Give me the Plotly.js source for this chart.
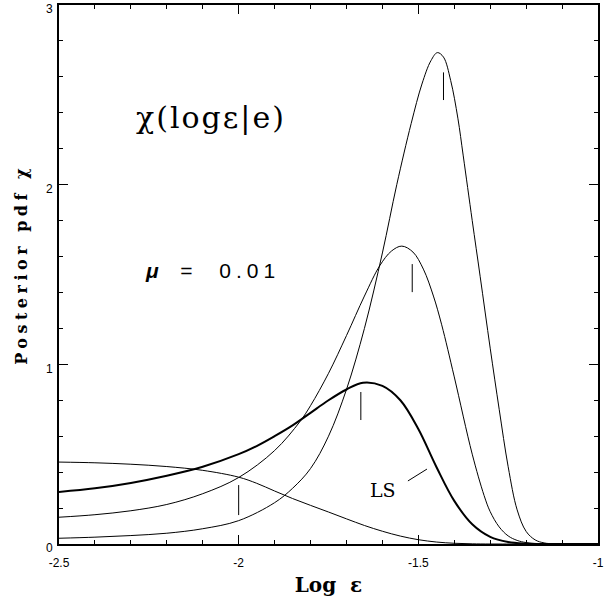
<!DOCTYPE html>
<html>
<head>
<meta charset="utf-8">
<script src="https://cdn.plot.ly/plotly-3.0.1.min.js"></script>
<style>html,body{margin:0;padding:0;background:#fff;}</style>
</head>
<body>
<div id="chart" style="width:610px;height:605px;"></div>
<script>
// Curve: flat, decreasing
const flatX = [-2.5,-2.4,-2.3,-2.2,-2.1,-2.0,-1.95,-1.9,-1.85,-1.8,-1.75,-1.7,-1.65,-1.6,-1.55,-1.5,-1.45,-1.4,-1.35,-1.3,-1.2,-1.0];
const flatY = [0.456,0.452,0.444,0.431,0.41,0.372,0.338,0.295,0.253,0.215,0.178,0.14,0.103,0.071,0.044,0.024,0.011,0.004,0.001,0,0,0];
// Curve: tallest peak
const tallX = [-2.5,-2.4,-2.3,-2.2,-2.1,-2.0,-1.9,-1.85,-1.8,-1.75,-1.7,-1.65,-1.6,-1.56,-1.52,-1.49,-1.465,-1.447,-1.43,-1.41,-1.39,-1.375,-1.35,-1.328,-1.3,-1.275,-1.25,-1.225,-1.2,-1.175,-1.15,-1.12,-1.0];
const tallY = [0.032,0.038,0.047,0.06,0.085,0.13,0.23,0.31,0.42,0.6,0.86,1.2,1.62,2.0,2.34,2.56,2.69,2.735,2.71,2.58,2.37,2.16,1.8,1.49,1.09,0.75,0.43,0.19,0.07,0.023,0.006,0.001,0];
// Curve: middle peak
const midX = [-2.5,-2.4,-2.3,-2.2,-2.1,-2.0,-1.9,-1.83,-1.8,-1.75,-1.7,-1.65,-1.607,-1.575,-1.546,-1.515,-1.486,-1.458,-1.435,-1.4,-1.35,-1.317,-1.3,-1.275,-1.25,-1.225,-1.2,-1.15,-1.0];
const midY = [0.149,0.163,0.185,0.22,0.28,0.37,0.52,0.68,0.77,0.95,1.16,1.38,1.55,1.63,1.658,1.625,1.53,1.38,1.22,0.93,0.50,0.27,0.18,0.095,0.045,0.02,0.008,0.001,0];
// Curve: LS (thick)
const lsX = [-2.5,-2.4,-2.3,-2.2,-2.1,-2.0,-1.95,-1.9,-1.85,-1.8,-1.75,-1.7,-1.654,-1.6,-1.55,-1.5,-1.45,-1.4,-1.35,-1.3,-1.25,-1.2,-1.15,-1.0];
const lsY = [0.29,0.31,0.34,0.38,0.43,0.5,0.545,0.6,0.66,0.73,0.8,0.86,0.898,0.88,0.80,0.64,0.43,0.24,0.11,0.04,0.011,0.002,0,0];
// Vertical marks
const markX = [-2.0,-1.66,-1.517,-1.43];
const markLow = [0.161,0.69,1.402,2.471];
const markHigh = [0.328,0.846,1.558,2.625];
// LS leader
const leaderX = [-1.529,-1.476];
const leaderY = [0.351,0.417];
// Ticks
const xTickVals = [-2.5,-2,-1.5,-1];
const xTickText = ["-2.5","-2","-1.5","-1"];
const yTickVals = [0,1,2,3];
const yTickText = ["0","1","2","3"];

const mx = [], my = [];
markX.forEach((v,i)=>{ mx.push(v,v,null); my.push(markLow[i],markHigh[i],null); });

const thin = {color:'#000', width:1, shape:'spline', smoothing:1};
const traces = [
  {x:flatX, y:flatY, mode:'lines', line:thin, hoverinfo:'skip'},
  {x:tallX, y:tallY, mode:'lines', line:thin, hoverinfo:'skip'},
  {x:midX, y:midY, mode:'lines', line:thin, hoverinfo:'skip'},
  {x:lsX, y:lsY, mode:'lines', line:{color:'#000', width:2, shape:'spline', smoothing:1}, hoverinfo:'skip'},
  {x:mx, y:my, mode:'lines', line:{color:'#000', width:1}, hoverinfo:'skip'},
  {x:leaderX, y:leaderY, mode:'lines', line:{color:'#000', width:1}, hoverinfo:'skip'}
];

const axisCommon = {
  showline:true, linecolor:'#000', linewidth:2, mirror:'ticks',
  ticks:'inside', ticklen:9, tickwidth:1, tickcolor:'#000',
  showgrid:false, zeroline:false, fixedrange:true,
  ticklabeloverflow:'allow',
  tickfont:{family:'Liberation Sans, Arial, sans-serif', size:12, color:'#000'},
  tickmode:'array'
};

const layout = {
  width:610, height:605,
  margin:{l:59, r:12, t:5, b:61},
  paper_bgcolor:'#fff', plot_bgcolor:'#fff',
  showlegend:false,
  xaxis: Object.assign({}, axisCommon, {
    range:[-2.5,-1], tickvals:xTickVals, ticktext:xTickText,
    ticklabelstandoff:7,
    minor:{dtick:0.1, ticks:'inside', ticklen:4, tickwidth:1, tickcolor:'#000', showgrid:false},
    title:{text:'<b>Log  ε</b>', standoff:9, font:{family:'DejaVu Serif, serif', size:20, color:'#000'}}
  }),
  yaxis: Object.assign({}, axisCommon, {
    range:[0,3], tickvals:yTickVals, ticktext:yTickText,
    ticklabelstandoff:2, ticklabelshift:4,
    minor:{dtick:0.2, ticks:'inside', ticklen:4, tickwidth:1, tickcolor:'#000', showgrid:false},
    title:{text:'<b><span style="letter-spacing:4.5px">\u00a0\u00a0Posterior pdf χ</span></b>', standoff:14, font:{family:'DejaVu Serif, serif', size:16, color:'#000'}}
  }),
  annotations:[
    {x:-2.077, y:2.376, xref:'x', yref:'y', showarrow:false,
     text:'<span style="letter-spacing:2px">χ(logε|e)</span>',
     font:{family:'DejaVu Serif, serif', size:30, color:'#000'}},
    {x:-2.074, y:1.525, xref:'x', yref:'y', showarrow:false,
     text:'<b><i>μ</i></b><span style="letter-spacing:5px">  =  0.01</span>',
     font:{family:'Liberation Sans, Arial, sans-serif', size:21, color:'#000'}},
    {x:-1.598, y:0.30, xref:'x', yref:'y', showarrow:false,
     text:'LS', font:{family:'DejaVu Serif, serif', size:19, color:'#000'}}
  ]
};

Plotly.newPlot('chart', traces, layout, {displayModeBar:false, staticPlot:true});
</script>
</body>
</html>
